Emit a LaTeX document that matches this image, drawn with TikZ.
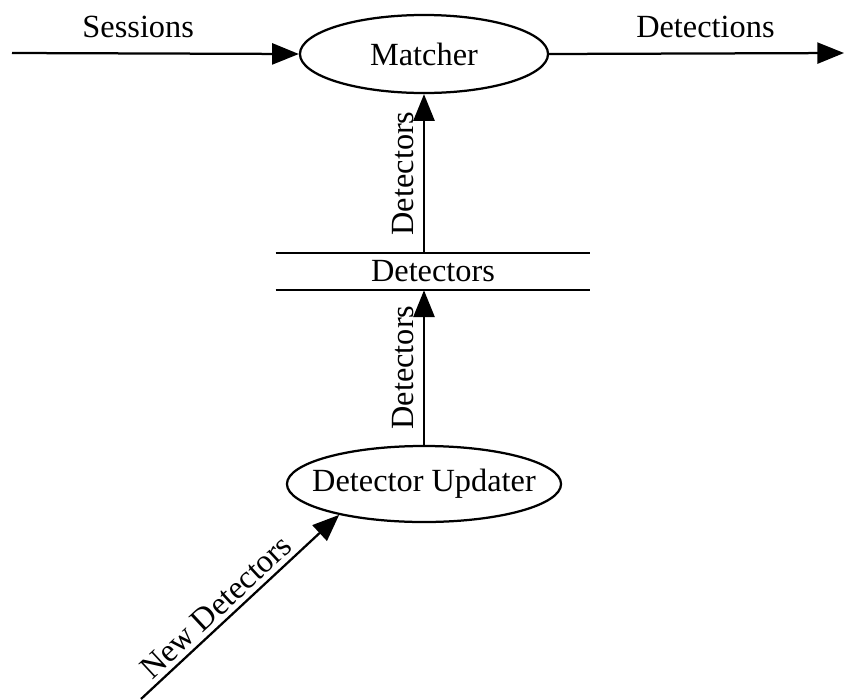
\documentclass[tikz,border=0pt]{standalone}
\usepackage{fontspec}
\setmainfont{Liberation Serif}
\usetikzlibrary{positioning}
\usetikzlibrary{arrows.meta}
\usetikzlibrary{shapes.geometric}

\begin{document}
\begin{tikzpicture}[
    x=0.025cm, y=-0.025cm,
    >={Triangle[length=19pt,width=15pt]},
    % node styles
    every node/.style = {font=\fontsize{23pt}{27pt}\selectfont},
    proc/.style = {
      ellipse,
      draw,
      line width=1.6pt,
      inner xsep=-20pt,
      inner ysep=0pt,
      minimum height=1.95cm
    },
    datastore/.style = {
      draw=none,
      minimum width=7.85cm,
      minimum height=0.925cm,
      inner sep=0pt
    },
    % arrow styles
    flow/.style = {->, line width=1.6pt},
    lbl/.style = {midway, above=0.1cm, sloped}
  ]
  \useasboundingbox (0,0) rectangle (844,699);

  % --- Nodes
  \node[proc, minimum width=6.2cm] (matcher) at (424,54) {Matcher};

  \node[datastore] (detstore) at (433,271.5) {Detectors};

  \node[proc, minimum width=6.85cm, minimum height=1.9cm] (updater) at (424,484) {Detector Updater};

  \coordinate (sesin) at (12,53);
  \coordinate (detout) at (844,53);
  \coordinate (newin) at (141,699);

  % --- Store lines
  \draw[line width=1.6pt] (detstore.north west) -- (detstore.north east)
    (detstore.south west) -- (detstore.south east);

  % --- Arrows
  \draw[flow] (sesin) -- node[pos=0.44, above=0.25cm] {Sessions} (matcher.west);
  \draw[flow] (matcher.east) -- node[pos=0.53, above=0.25cm] {Detections} (detout);
  \draw[flow] (detstore.north -| matcher.south) -- node[lbl] {Detectors} (matcher.south);
  \draw[flow] (updater.north) -- node[lbl] {Detectors} (detstore.south -| updater.north);
  \draw[flow] (newin) -- node[lbl, pos=0.435, above=0cm] {New Detectors} (updater.200);

\end{tikzpicture}
\end{document}
